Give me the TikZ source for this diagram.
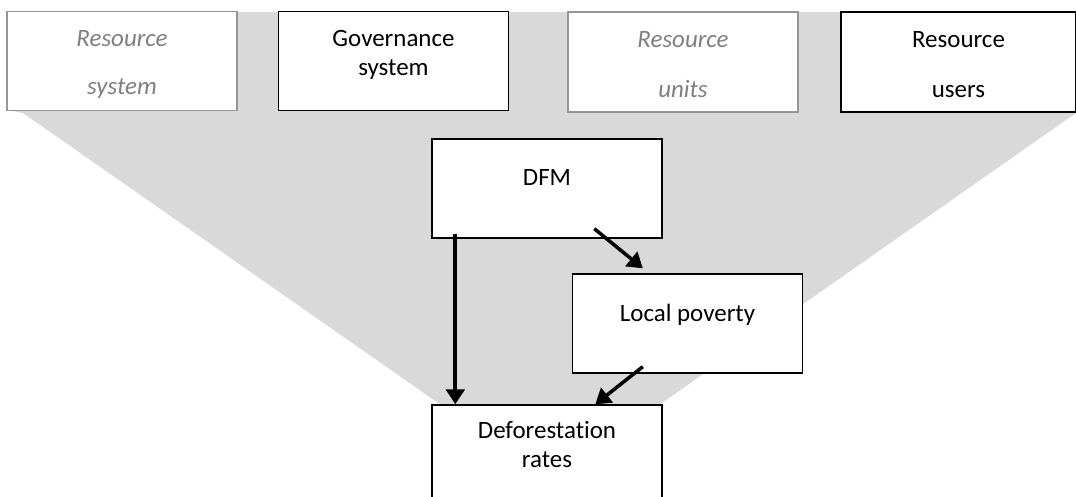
\documentclass[tikz,border=0pt]{standalone}
\usepackage{fontspec}
\setmainfont{Carlito}[Ligatures = NoCommon]
\usetikzlibrary{arrows.meta,calc}
\definecolor{bggray}{RGB}{217,217,217}
\definecolor{faint}{RGB}{150,150,150}
\definecolor{fainttext}{RGB}{128,128,128}
\begin{document}
\begin{tikzpicture}[
        x = 0.02cm, y = -0.02cm,
        box/.style = {draw, line width = 0.8pt, fill = white,
            minimum width = 4.6cm, minimum height = 1.98cm, inner sep = 0},
        faintbox/.style = {box, draw = faint},
        lbl/.style = {anchor = north, inner sep = 0, align = center,
            font = \fontsize{14.2}{16.5}\selectfont},
        faintlbl/.style = {lbl, text = fainttext, font = \fontsize{14.2}{16.5}\selectfont\itshape},
        link/.style = {line width = 2pt, -{Triangle[length = 8.5pt, width = 10.5pt]}}
    ]
    \clip (0, 0) rectangle (1076, 497);
    \fill[bggray]
        (8, 12) -- (1076, 12) -- (1076, 113) -- (659, 405)
        -- (441, 405) -- (23, 113) -- (8, 110) -- cycle
    ;
    \path
        (122, 61) node[faintbox] (rs) {}
        (393.5, 61) node[box] (gs) {}
        (683, 62) node[faintbox, minimum height = 2cm] (ru) {}
        (958.5, 62) node[box, minimum width = 4.7cm, minimum height = 2cm] (uu) {}
        (547, 188.5) node[box] (dfm) {}
        (687.5, 323.5) node[box] (lp) {}
        (547, 455) node[box, minimum height = 2cm] (dr) {}
    ;
    \path
        (122, 30) node[faintlbl] (rs-text) {Resource\\[11pt]system}
        (393.5, 30) node[lbl] (gs-text) {Governance\\system}
        (683, 31) node[faintlbl] (ru-text) {Resource\\[12pt]units}
        (958.5, 31) node[lbl] (uu-text) {Resource\\[12pt]users}
        (547, 169) node[lbl] (dfm-text) {DFM}
        (687.5, 304) node[lbl] (lp-text) {Local poverty}
        (547, 421) node[lbl] (dr-text) {Deforestation\\rates}
    ;
    \draw[link, line width = 2.4pt]
        ($(dfm.south west) + (24, -5)$) -- ($(dr.north west) + (24, 0)$);
    \draw[link]
        ($(dfm.south west) + (163, -10)$) -- ($(lp.north west) + (71, -5)$);
    \draw[link]
        ($(lp.south west) + (71, -7)$) -- ($(dr.north west) + (164, 0)$);
\end{tikzpicture}
\end{document}
